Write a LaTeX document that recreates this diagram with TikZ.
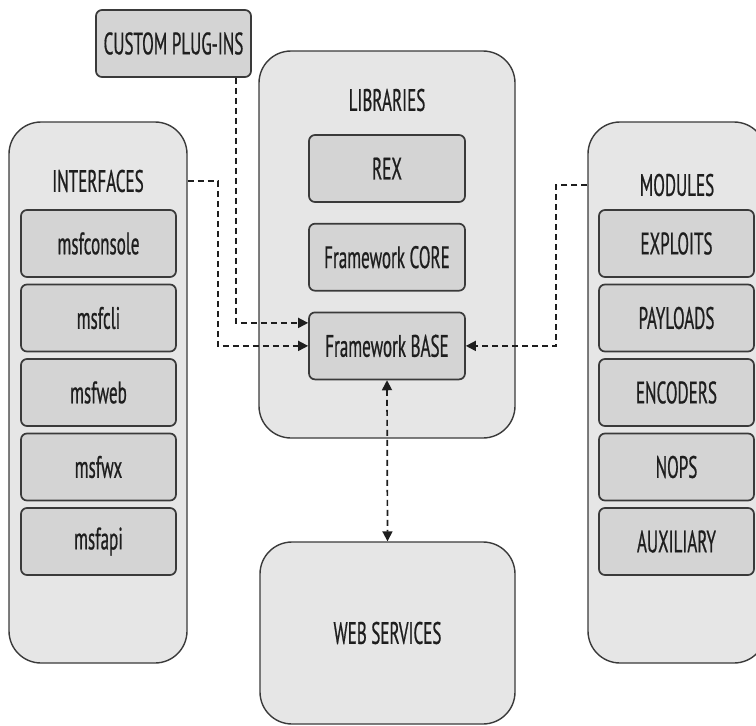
\documentclass[tikz,border=0pt]{standalone}
\usepackage{fontspec}
\setmainfont[FakeStretch=0.55,FakeBold=0.6]{PT Sans}
\usetikzlibrary{arrows.meta,positioning,calc}
\definecolor{pane}{HTML}{E6E6E6}
\definecolor{cell}{HTML}{D4D4D4}
\definecolor{edge}{HTML}{3A3A3A}
\definecolor{ink}{HTML}{1E1E1E}
\tikzset{
  container/.style={draw=edge, fill=pane, line width=1.4pt, rounded corners=32pt, inner sep=0pt},
  unit/.style={draw=edge, fill=cell, line width=1.7pt, rounded corners=6pt, minimum width=155pt, minimum height=67pt, inner sep=0pt, lab},
  lab/.style={font=\fontsize{31}{34}\selectfont, text=ink},
  dasharr/.style={-{Triangle[length=10pt,width=10pt]}, line width=1.7pt, dash pattern=on 6pt off 4pt, ink},
  bothdash/.style={dasharr, {Triangle[length=10pt,width=10pt]}-{Triangle[length=10pt,width=10pt]}},
}

\begin{document}
\begin{tikzpicture}[x=1pt,y=-1pt]
\useasboundingbox (0,0) rectangle (756,726);
\clip (0,0) rectangle (756,726);

% ===================== interfaces (left) ====================================
\node[container, minimum width=178pt, minimum height=541pt] (ifc) at (98,392.5) {};
\node[lab] (ifcT) at (98,181) {INTERFACES};
\foreach \n [count=\i from 0] in {msfconsole,msfcli,msfweb,msfwx,msfapi}
  \node[unit] (ifc\i) at (98.5,243.5+74.5*\i) {\n};

% ===================== modules (right) ======================================
\node[container, minimum width=178pt, minimum height=541pt] (mod) at (677,392.5) {};
\node[lab] (modT) at (677,185) {MODULES};
\foreach \n [count=\i from 0] in {EXPLOITS,PAYLOADS,ENCODERS,NOPS,AUXILIARY}
  \node[unit] (mod\i) at (676.5,243.5+74.5*\i) {\n};

% ===================== libraries (centre) ===================================
\node[container, minimum width=256pt, minimum height=387pt] (lib) at (387,244.5) {};
\node[lab] (libT) at (387,100) {LIBRARIES};
\node[unit, minimum width=156pt] (rex) at (387,168.5) {REX};
\node[unit, minimum width=156pt, below=20pt of rex] (core) {Framework CORE};
\node[unit, minimum width=156pt, below=20pt of core] (base) {Framework BASE};

% ===================== web services and plug-ins ============================
\node[container, lab, minimum width=255pt, minimum height=182pt] (web) at (387.5,633) {WEB SERVICES};
\node[unit] (plug) at (173.5,43.5) {CUSTOM PLUG-INS};

% connectors
\draw[dasharr] ([xshift=-16pt]plug.south east) |- ([yshift=23pt]base.west);
\draw[dasharr] (ifcT -| ifc.east) -- ++(30,0) |- (base.west);
\draw[dasharr] (modT -| mod.west) -- ++(-31,0) |- (base.east);
\draw[bothdash] (base.south) -- (web.north);

\end{tikzpicture}
\end{document}
